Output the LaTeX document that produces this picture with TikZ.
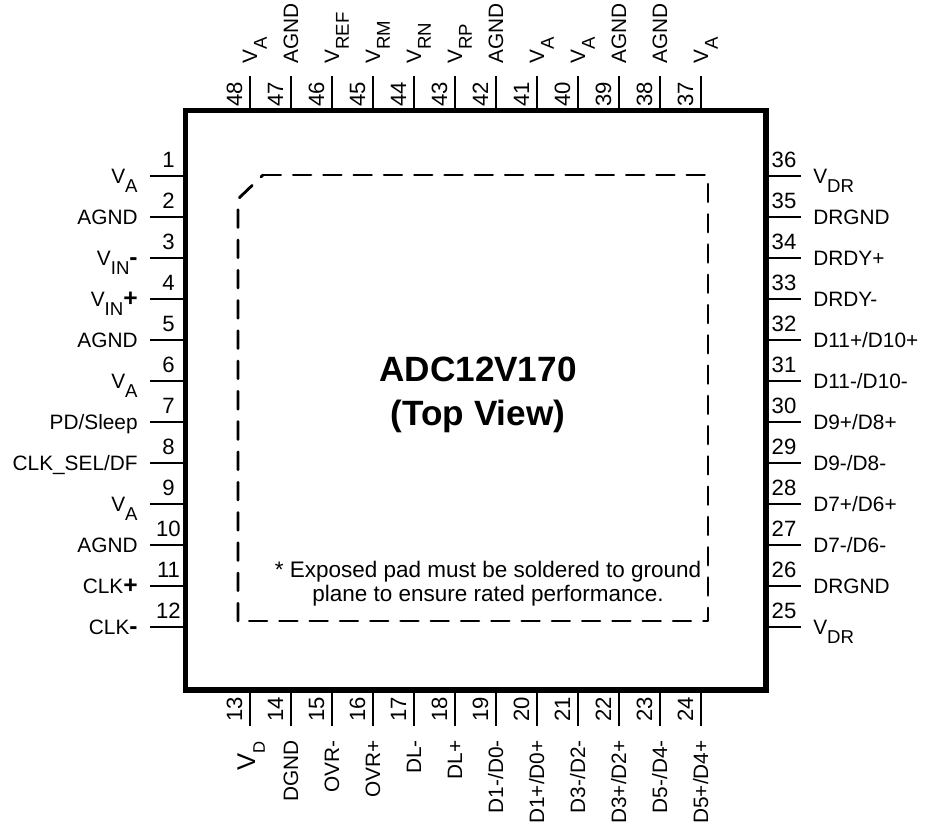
\documentclass[tikz,border=0pt]{standalone}
\usepackage{fontspec}
\setmainfont{Liberation Sans}

\newcommand{\vsub}[1]{V\raisebox{-5.6pt}{\fontsize{10.6}{12}\selectfont #1}}
\newcommand{\bigsign}[1]{{\fontsize{14}{14}\selectfont\bfseries #1}}

\tikzset{
    pinline/.style={line width=1.4pt},
    pinlabel/.style={font=\fontsize{11.85}{14}\selectfont, inner sep=0pt},
    pinnum/.style={font=\fontsize{12.6}{14}\selectfont, inner sep=0pt},
    padline/.style={line width=1.6pt, line cap=round, line join=round, dash pattern=on 10.1pt off 7.13pt},
}

\begin{document}
\begin{tikzpicture}[x=0.02cm, y=-0.02cm]
    \useasboundingbox (0, 0) rectangle (926, 826);

    \foreach \n/\lab [count=\i from 0] in {1/\vsub{A}, 2/AGND, 3/\vsub{IN}\bigsign{-}, 4/\vsub{IN}\bigsign{+}, 5/AGND, 6/\vsub{A}, 7/{PD/Sleep}, 8/{CLK\_SEL/DF}, 9/\vsub{A}, 10/AGND, 11/CLK\bigsign{+}, 12/CLK\bigsign{-}} {
        \coordinate (pa\n) at (150, 176 + 41*\i);
        \coordinate (pb\n) at (185, 176 + 41*\i);
        \draw[pinline] (pa\n) -- (pb\n);
        \node[pinnum] (num\n) at (168.5, 160 + 41*\i) {\n};
        \node[pinlabel, anchor=base east] (lab\n) at (138, 183 + 41*\i) {\lab};
    }

    \foreach \n/\lab [count=\i from 0] in {36/\vsub{DR}, 35/DRGND, 34/DRDY+, 33/DRDY-, 32/{D11+/D10+}, 31/{D11-/D10-}, 30/{D9+/D8+}, 29/{D9-/D8-}, 28/{D7+/D6+}, 27/{D7-/D6-}, 26/DRGND, 25/\vsub{DR}} {
        \coordinate (pa\n) at (801, 176 + 41*\i);
        \coordinate (pb\n) at (766, 176 + 41*\i);
        \draw[pinline] (pa\n) -- (pb\n);
        \node[pinnum] (num\n) at (784, 160 + 41*\i) {\n};
        \node[pinlabel, anchor=base west] (lab\n) at (813, 183 + 41*\i) {\lab};
    }

    \foreach \n/\lab [count=\i from 0] in {48/\vsub{A}, 47/AGND, 46/\vsub{REF}, 45/\vsub{RM}, 44/\vsub{RN}, 43/\vsub{RP}, 42/AGND, 41/\vsub{A}, 40/\vsub{A}, 39/AGND, 38/AGND, 37/\vsub{A}} {
        \coordinate (pa\n) at (250 + 41*\i, 76);
        \coordinate (pb\n) at (250 + 41*\i, 111);
        \draw[pinline] (pa\n) -- (pb\n);
        \node[pinnum, rotate=90] (num\n) at (234.5 + 41*\i, 94) {\n};
        \node[pinlabel, rotate=90, anchor=base west] (lab\n) at (257 + 41*\i, 64) {\lab};
    }

    \foreach \n/\lab [count=\i from 0] in {14/DGND, 15/OVR-, 16/OVR+, 17/DL-, 18/DL+, 19/{D1-/D0-}, 20/{D1+/D0+}, 21/{D3-/D2-}, 22/{D3+/D2+}, 23/{D5-/D4-}, 24/{D5+/D4+}} {
        \coordinate (pa\n) at (291 + 41*\i, 726);
        \coordinate (pb\n) at (291 + 41*\i, 690);
        \draw[pinline] (pa\n) -- (pb\n);
        \node[pinnum, rotate=90] (num\n) at (275.5 + 41*\i, 709) {\n};
        \node[pinlabel, rotate=90, anchor=base east] (lab\n) at (298 + 41*\i, 740) {\lab};
    }

    \coordinate (pa13) at (250, 726);
    \coordinate (pb13) at (250, 690);
    \draw[pinline] (pa13) -- (pb13);
    \node[pinnum, rotate=90] (num13) at (234.5, 709) {13};
    \node[inner sep=0pt, rotate=90, anchor=base east, font=\fontsize{14.6}{16}\selectfont] (lab13) at (255, 741) {V\raisebox{-5.6pt}{\fontsize{9.5}{12}\selectfont D}};

    \coordinate (chipnw) at (185.5, 110.5);
    \coordinate (chipse) at (766, 690);
    \draw[line width=2.9pt] (chipnw) rectangle (chipse);

    \coordinate (pad1) at (263, 175);
    \coordinate (pad2) at (708, 175);
    \coordinate (pad3) at (708, 621);
    \coordinate (pad4) at (238, 621);
    \coordinate (pad5) at (238, 199);
    \draw[padline] (pad1) -- (pad2) -- (pad3) -- (pad4);
    \draw[padline] (pad4) -- (pad5) -- (pad1);

    \node[font=\fontsize{20}{25}\selectfont\bfseries, align=center, inner sep=0pt] (title) at (478, 395) {ADC12V170\\(Top View)};
    \node[font=\fontsize{12.8}{13.6}\selectfont, align=center, inner sep=0pt] (note) at (488, 584) {* Exposed pad must be soldered to ground\\plane to ensure rated performance.};
\end{tikzpicture}
\end{document}
